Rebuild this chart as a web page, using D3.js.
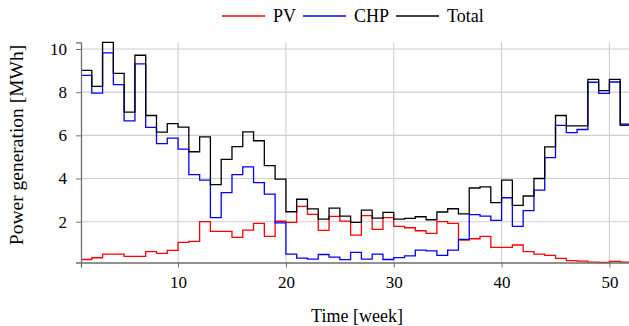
<!DOCTYPE html>
<html>
<head>
<meta charset="utf-8">
<script src="https://cdn.jsdelivr.net/npm/d3@7"></script>
<style>
  body { margin: 0; background: #fff; }
  svg { display: block; }
  text { font-family: "Liberation Serif", "Times New Roman", serif; fill: #000; }
</style>
</head>
<body>
<svg id="chart" width="629" height="326"></svg>
<script>
// weekly power generation in MWh
const weeks = d3.range(1, 53);
const pv = [0.25, 0.33, 0.50, 0.50, 0.39, 0.39, 0.61, 0.53, 0.67, 1.04,
  1.09, 2.00, 1.55, 1.55, 1.27, 1.61, 1.92, 1.32, 2.02, 1.97,
  2.71, 2.34, 1.60, 2.25, 2.03, 1.38, 2.28, 1.64, 2.19, 1.78,
  1.72, 1.58, 1.46, 2.00, 1.92, 1.15, 1.21, 1.32, 0.81, 0.81,
  0.92, 0.61, 0.50, 0.44, 0.30, 0.20, 0.17, 0.13, 0.11, 0.16,
  0.13, 0.13];
const chp = [8.78, 7.96, 9.82, 8.35, 6.67, 9.31, 6.37, 5.62, 5.87, 5.36,
  4.18, 3.93, 2.19, 3.35, 4.18, 4.54, 3.81, 3.28, 1.95, 0.50,
  0.31, 0.27, 0.48, 0.36, 0.24, 0.58, 0.27, 0.50, 0.25, 0.34,
  0.42, 0.68, 0.65, 0.44, 0.68, 1.18, 2.33, 2.26, 2.06, 3.11,
  1.78, 2.51, 3.46, 4.97, 6.46, 6.13, 6.27, 8.46, 7.94, 8.47,
  6.46, 6.46];
const total = [9.01, 8.27, 10.31, 8.87, 7.08, 9.71, 6.92, 6.15, 6.54, 6.38,
  5.24, 5.93, 3.72, 4.89, 5.48, 6.16, 5.75, 4.60, 3.97, 2.46,
  3.04, 2.59, 2.12, 2.63, 2.26, 1.97, 2.54, 2.17, 2.43, 2.12,
  2.15, 2.23, 2.09, 2.45, 2.60, 2.36, 3.56, 3.61, 2.88, 3.93,
  2.76, 3.19, 4.00, 5.47, 6.92, 6.44, 6.44, 8.59, 8.07, 8.59,
  6.52, 6.52];
const xTicks = [10, 20, 30, 40, 50];
const yTicks = [2, 4, 6, 8, 10];

const series = [
  { name: 'PV', values: pv, color: '#ff0000' },
  { name: 'CHP', values: chp, color: '#0000ff' },
  { name: 'Total', values: total, color: '#000000' }
];

const svg = d3.select('#chart');
const plotLeft = 81, plotRight = 631, plotTop = 42.3, plotBottom = 262.5;
const serif = '"Liberation Serif", "Times New Roman", serif';

const all = pv.concat(chp, total);
const x = d3.scaleLinear().domain([d3.min(weeks), d3.max(weeks)]).range([plotLeft, plotRight]);
const y = d3.scaleLinear().domain([d3.min(all), d3.max(all)]).range([plotBottom, plotTop]);

// grid
const grid = svg.append('g');
grid.selectAll('.gx').data(xTicks).enter().append('line')
  .attr('x1', d => x(d)).attr('x2', d => x(d))
  .attr('y1', plotTop).attr('y2', plotBottom)
  .attr('stroke', '#cfcfcf').attr('stroke-width', 1.1);
grid.selectAll('.gy').data(yTicks).enter().append('line')
  .attr('x1', plotLeft).attr('x2', plotRight)
  .attr('y1', d => y(d)).attr('y2', d => y(d))
  .attr('stroke', '#cfcfcf').attr('stroke-width', 1.1);

// lines
const line = d3.line().curve(d3.curveStepAfter);
series.forEach(function(s) {
  svg.append('path')
    .datum(weeks.map((w, i) => [x(w), y(s.values[i])]))
    .attr('d', line)
    .attr('fill', 'none')
    .attr('stroke', s.color)
    .attr('stroke-width', 1.3);
});

// axes
const xAxis = svg.append('g')
  .attr('transform', 'translate(0,' + plotBottom + ')')
  .call(d3.axisBottom(x).tickValues(xTicks).tickSize(5).tickPadding(8).tickFormat(d3.format('d')));
const yAxis = svg.append('g')
  .attr('transform', 'translate(' + plotLeft + ',0)')
  .call(d3.axisLeft(y).tickValues(yTicks).tickSize(5).tickPadding(9).tickFormat(d3.format('d')));
[xAxis, yAxis].forEach(function(a) {
  a.attr('font-family', null).attr('font-size', null);
  a.select('.domain').attr('stroke', '#6e6e6e').attr('stroke-width', 1.3);
  a.selectAll('.tick line').attr('stroke', '#6e6e6e').attr('stroke-width', 1);
  a.selectAll('.tick text').style('font-family', serif).style('font-size', '17px').attr('fill', '#000');
});

// axis labels
svg.append('text')
  .attr('x', 357).attr('y', 322)
  .attr('text-anchor', 'middle')
  .style('font-size', '18px')
  .text('Time [week]');
svg.append('text')
  .attr('transform', 'translate(23,145) rotate(-90)')
  .attr('text-anchor', 'middle')
  .style('font-size', '19.5px')
  .text('Power generation [MWh]');

// legend
const legend = svg.append('g');
const legendPos = [222, 303, 396];
series.forEach(function(s, i) {
  const g = legend.append('g').attr('transform', 'translate(' + legendPos[i] + ',16)');
  g.append('line').attr('x1', 0).attr('x2', 43).attr('y1', 0).attr('y2', 0)
    .attr('stroke', s.color).attr('stroke-width', 1.3);
  g.append('text').attr('x', 51).attr('y', 5.5).style('font-size', '18px').text(s.name);
});
</script>
</body>
</html>
